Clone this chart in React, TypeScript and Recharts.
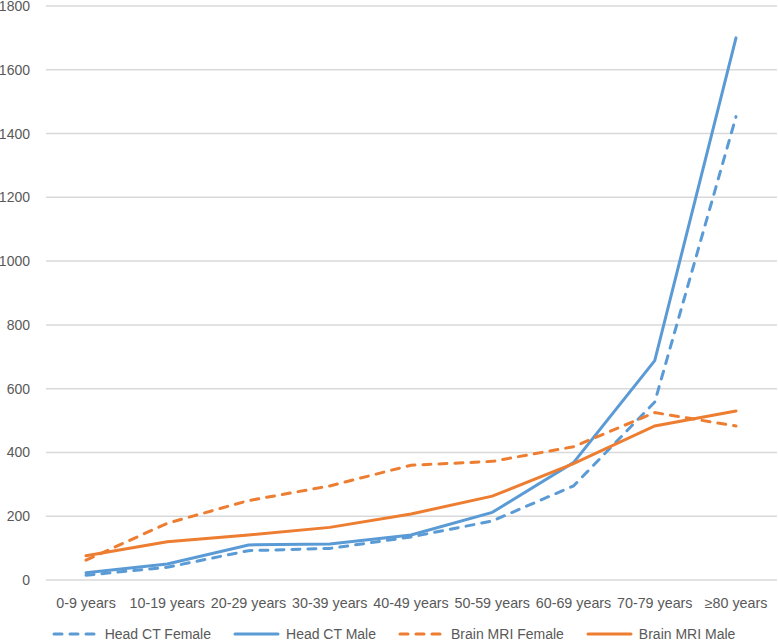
import React from 'react';
import {
  LineChart,
  Line,
  XAxis,
  YAxis,
  CartesianGrid,
  Legend,
} from 'recharts';

const ageGroups = [
  '0-9 years',
  '10-19 years',
  '20-29 years',
  '30-39 years',
  '40-49 years',
  '50-59 years',
  '60-69 years',
  '70-79 years',
  '≥80 years',
];

const headCtFemale = [15, 40, 92, 99, 135, 185, 295, 558, 1453];
const headCtMale = [23, 50, 110, 113, 141, 212, 368, 688, 1700];
const brainMriFemale = [62, 178, 249, 295, 360, 372, 418, 525, 483];
const brainMriMale = [76, 120, 141, 165, 207, 263, 365, 483, 530];

const yTicks = [0, 200, 400, 600, 800, 1000, 1200, 1400, 1600, 1800];

const BLUE = '#5B9BD5';
const ORANGE = '#ED7D31';
const TEXT = '#595959';
const FONT = '"Liberation Sans", Arial, sans-serif';
const DASH = '8 8';

const series = [
  { key: 'headCtFemale', name: 'Head CT Female', color: BLUE, dashed: true },
  { key: 'headCtMale', name: 'Head CT Male', color: BLUE, dashed: false },
  { key: 'brainMriFemale', name: 'Brain MRI Female', color: ORANGE, dashed: true },
  { key: 'brainMriMale', name: 'Brain MRI Male', color: ORANGE, dashed: false },
];

const data = ageGroups.map((age, i) => ({
  age,
  headCtFemale: headCtFemale[i],
  headCtMale: headCtMale[i],
  brainMriFemale: brainMriFemale[i],
  brainMriMale: brainMriMale[i],
}));

function LegendRow() {
  return (
    <div
      style={{
        display: 'flex',
        justifyContent: 'center',
        gap: 22,
        fontFamily: FONT,
        fontSize: 14,
        color: TEXT,
        paddingLeft: 10,
        paddingTop: 8,
      }}
    >
      {series.map((s) => (
        <div key={s.key} style={{ display: 'flex', alignItems: 'center' }}>
          <svg width={47} height={10} style={{ marginRight: 6 }}>
            <line
              x1={2}
              y1={5}
              x2={45}
              y2={5}
              stroke={s.color}
              strokeWidth={3}
              strokeLinecap="round"
              strokeDasharray={s.dashed ? DASH : undefined}
            />
          </svg>
          <span>{s.name}</span>
        </div>
      ))}
    </div>
  );
}

export default function App() {
  return (
    <div style={{ position: 'absolute', left: 0, top: 0, background: '#fff' }}>
      <LineChart
        width={778}
        height={642}
        data={data}
        margin={{ top: 6, right: 1, left: 0, bottom: 0 }}
      >
        <CartesianGrid vertical={false} stroke="#d9d9d9" strokeWidth={1.5} />
        <XAxis
          dataKey="age"
          interval={0}
          axisLine={false}
          tickLine={false}
          tickMargin={12}
          height={38}
          padding={{ left: 40, right: 41 }}
          tick={{ fill: TEXT, fontSize: 14.3, fontFamily: FONT }}
        />
        <YAxis
          domain={[0, 1800]}
          ticks={yTicks}
          interval={0}
          axisLine={false}
          tickLine={false}
          width={46}
          tickMargin={10}
          tick={{ fill: TEXT, fontSize: 14, fontFamily: FONT }}
        />
        <Legend verticalAlign="bottom" height={24} content={() => <LegendRow />} />
        {series.map((s) => (
          <Line
            key={s.key}
            type="linear"
            dataKey={s.key}
            name={s.name}
            stroke={s.color}
            strokeWidth={3}
            strokeLinecap="round"
            strokeDasharray={s.dashed ? DASH : undefined}
            dot={false}
            activeDot={false}
            isAnimationActive={false}
          />
        ))}
      </LineChart>
    </div>
  );
}
